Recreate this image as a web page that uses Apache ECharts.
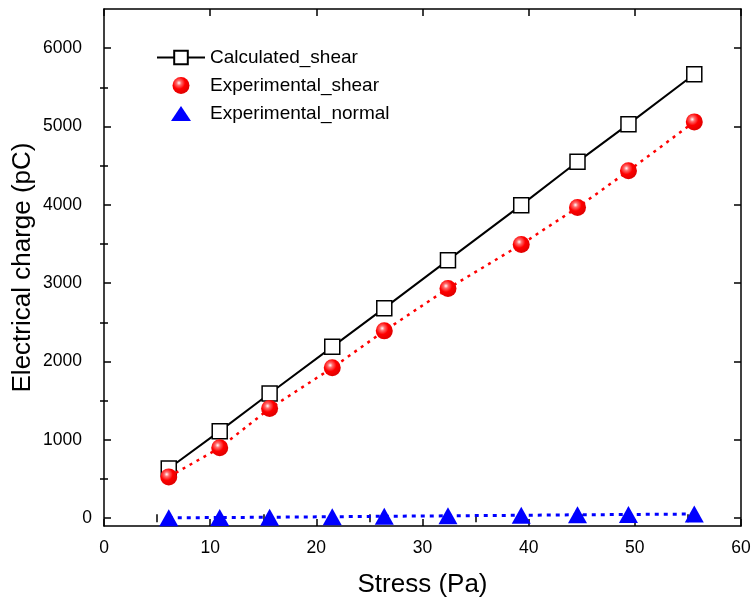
<!DOCTYPE html>
<html>
<head>
<meta charset="utf-8">
<script src="https://cdn.jsdelivr.net/npm/echarts@6/dist/echarts.min.js"></script>
<style>
html,body{margin:0;padding:0;background:#fff;}
#chart{width:756px;height:605px;}
</style>
</head>
<body>
<div id="chart"></div>
<script>
// Data
const stress = [6.1, 10.9, 15.6, 21.5, 26.4, 32.4, 39.3, 44.6, 49.4, 55.6];
const calculatedShear = [634, 1111, 1592, 2187, 2681, 3294, 3996, 4549, 5030, 5668];
const experimentalShear = [527, 898, 1400, 1919, 2391, 2932, 3494, 3966, 4434, 5059];
const experimentalNormal = [5, 8, 12, 18, 24, 30, 37, 43, 47, 53];
const seriesNames = ['Calculated_shear', 'Experimental_shear', 'Experimental_normal'];
const yMajorTicks = [0, 1000, 2000, 3000, 4000, 5000, 6000];
const yMinorTicks = [500, 1500, 2500, 3500, 4500, 5500];
const xMinorTicks = [5, 15, 25, 35, 45, 55];
const xRange = [0, 60];
const yRange = [-100, 6500];

const FONT = 'Arial, "Liberation Sans", sans-serif';
const pairs = (ys) => stress.map((x, i) => [x, ys[i]]);
const gridRect = { left: 104, right: 15, top: 9, bottom: 79, outerBoundsMode: 'none', containLabel: false };
const plain = (v) => String(v);
// triangle legend icon inside a 48x17 box (move-to points fix the box so it is not stretched)
const legendTriangle = 'path://M0,0 M48,17 M14,16 L24,1 L34,16 Z';

const chart = echarts.init(document.getElementById('chart'));

function xAxisDef(gridIndex, opts) {
  return Object.assign({
    type: 'value', gridIndex, min: xRange[0], max: xRange[1], interval: 10,
    splitLine: { show: false },
    axisLine: { show: false },
    axisTick: { show: false },
    axisLabel: { show: false }
  }, opts);
}
function yAxisDef(gridIndex, opts) {
  return Object.assign({
    type: 'value', gridIndex, min: yRange[0], max: yRange[1],
    splitLine: { show: false },
    axisLine: { show: false },
    axisTick: { show: false },
    axisLabel: { show: false }
  }, opts);
}
const lineBlack = { show: true, onZero: false, lineStyle: { color: '#000', width: 1.5 } };

const option = {
  backgroundColor: '#fff',
  animation: false,
  grid: [0, 1, 2, 3].map(() => Object.assign({}, gridRect)),
  xAxis: [
    xAxisDef(0, {
      position: 'bottom',
      axisLine: lineBlack,
      axisTick: { show: true, inside: true, length: 7, lineStyle: { color: '#000', width: 1.5 } },
      axisLabel: { show: true, color: '#000', fontSize: 17.5, fontFamily: FONT, margin: 13, formatter: plain },
      name: 'Stress (Pa)', nameLocation: 'middle', nameGap: 46, nameMoveOverlap: false,
      nameTextStyle: { color: '#000', fontSize: 26, fontFamily: FONT }
    }),
    xAxisDef(1, {
      position: 'bottom',
      axisTick: { show: true, inside: true, length: 4, customValues: xMinorTicks, lineStyle: { color: '#000', width: 1.5 } }
    }),
    xAxisDef(2, {
      position: 'top',
      axisLine: lineBlack,
      axisTick: { show: true, inside: true, length: 7, lineStyle: { color: '#000', width: 1.5 } }
    }),
    xAxisDef(3, {
      position: 'top',
      axisTick: { show: true, inside: true, length: 4, customValues: xMinorTicks, lineStyle: { color: '#000', width: 1.5 } }
    })
  ],
  yAxis: [
    yAxisDef(0, {
      position: 'left',
      axisLine: lineBlack,
      axisTick: { show: true, inside: true, length: 7, customValues: yMajorTicks, lineStyle: { color: '#000', width: 1.5 } },
      axisLabel: { show: true, customValues: yMajorTicks.filter(v => v !== 0), color: '#000', fontSize: 17.5, fontFamily: FONT, margin: 22, formatter: plain },
      name: 'Electrical charge (pC)', nameLocation: 'middle', nameGap: 68, nameRotate: 90, nameMoveOverlap: false,
      nameTextStyle: { color: '#000', fontSize: 26, fontFamily: FONT }
    }),
    yAxisDef(1, {
      position: 'left',
      axisTick: { show: true, inside: true, length: 4, customValues: yMinorTicks, lineStyle: { color: '#000', width: 1.5 } },
      axisLabel: { show: true, customValues: [0], color: '#000', fontSize: 17.5, fontFamily: FONT, margin: 12, formatter: plain }
    }),
    yAxisDef(2, {
      position: 'right',
      axisLine: lineBlack,
      axisTick: { show: true, inside: true, length: 7, customValues: yMajorTicks, lineStyle: { color: '#000', width: 1.5 } }
    }),
    yAxisDef(3, {
      position: 'right',
      axisTick: { show: true, inside: true, length: 4, customValues: yMinorTicks, lineStyle: { color: '#000', width: 1.5 } }
    })
  ],
  legend: {
    orient: 'vertical',
    left: 156, top: 48, padding: 0,
    itemWidth: 48, itemHeight: 17, itemGap: 9, textGap: 7,
    textStyle: { color: '#000', fontSize: 19, fontFamily: FONT },
    data: [
      { name: seriesNames[0] },
      { name: seriesNames[1], icon: 'circle' },
      { name: seriesNames[2], icon: legendTriangle }
    ]
  },
  series: [
    {
      name: seriesNames[0], type: 'line', xAxisIndex: 0, yAxisIndex: 0,
      data: pairs(calculatedShear),
      symbol: 'rect', symbolSize: 15,
      itemStyle: { color: '#fff', borderColor: '#000', borderWidth: 1.5 },
      lineStyle: { color: '#000', width: 2 },
      z: 2
    },
    {
      name: seriesNames[1], type: 'line', xAxisIndex: 0, yAxisIndex: 0,
      data: pairs(experimentalShear),
      symbol: 'circle', symbolSize: 17,
      itemStyle: {
        color: {
          type: 'radial', x: 0.38, y: 0.35, r: 0.65,
          colorStops: [
            { offset: 0, color: '#ffffff' },
            { offset: 0.22, color: '#ff6a6a' },
            { offset: 0.55, color: '#ff0000' },
            { offset: 1, color: '#e00000' }
          ]
        },
        borderWidth: 0
      },
      lineStyle: { color: '#ff0000', width: 2.5, type: [3, 5] },
      z: 3
    },
    {
      name: seriesNames[2], type: 'line', xAxisIndex: 0, yAxisIndex: 0,
      data: pairs(experimentalNormal),
      symbol: 'triangle', symbolSize: [19, 17],
      itemStyle: { color: '#0000ff', borderWidth: 0 },
      lineStyle: { color: '#0000ff', width: 3, type: [4, 5] },
      z: 4
    }
  ]
};
chart.setOption(option);
</script>
</body>
</html>
